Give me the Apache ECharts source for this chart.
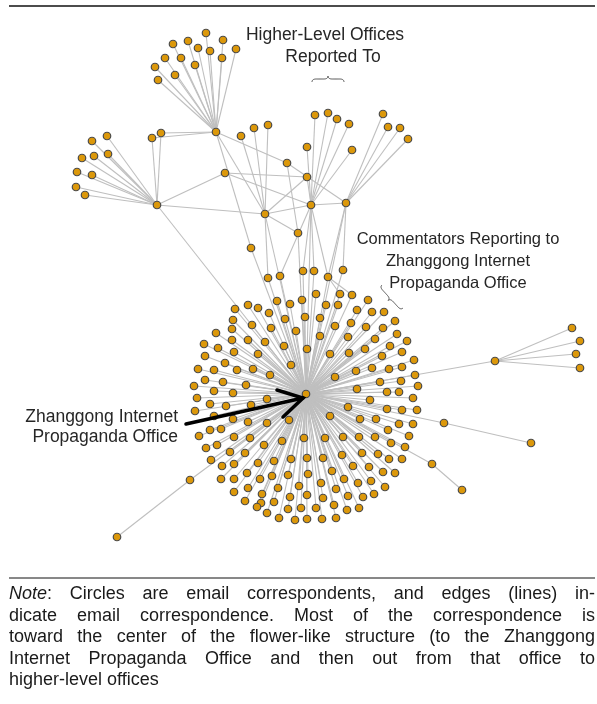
<!DOCTYPE html>
<html><head><meta charset="utf-8">
<script src="https://cdn.jsdelivr.net/npm/echarts@6/dist/echarts.min.js"></script>
<style>
html,body{margin:0;padding:0;background:#fff;}
#chart{position:absolute;left:0;top:0;width:597px;height:704px;}
#note{position:absolute;left:9px;top:583px;width:586px;font-family:'Liberation Sans',Arial,Helvetica,sans-serif;font-size:18px;line-height:21.6px;color:#1a1a1a;}
#note .j{text-align:justify;text-align-last:justify;}
</style></head>
<body>
<div id="chart"></div>
<div id="note">
<div class="j"><i>Note</i>: Circles are email correspondents, and edges (lines) in-</div>
<div class="j">dicate email correspondence. Most of the correspondence is</div>
<div class="j">toward the center of the flower-like structure (to the Zhanggong</div>
<div class="j">Internet Propaganda Office and then out from that office to</div>
<div>higher-level offices</div>
</div>
<script>
// ---- DATA (node positions) ----
const hub = [306, 394]; // Zhanggong Internet Propaganda Office

const officeNames = ['A','B','C','D','E','F','G','H','I','J','K','P1','P2','R','S1','S2','T1','T2','U1','U2'];
const officeX     = [216,157,265,307,311,346,225,287,298,251,307,152,161,495,190,117,444,531,432,462];
const officeY     = [132,205,214,177,205,203,173,163,233,248,147,138,133,361,480,537,423,443,464,490];

const leavesA = [[206,33],[188,41],[173,44],[223,40],[236,49],[198,48],[210,51],[165,58],[181,58],[195,65],[222,58],[155,67],[175,75],[158,80]];
const leavesB = [[107,136],[92,141],[108,154],[94,156],[82,158],[77,172],[92,175],[76,187],[85,195]];
const leavesC = [[241,136],[254,128],[268,125]];
const leavesE = [[315,115],[328,113],[337,119],[349,124],[352,150]];
const leavesF = [[383,114],[388,127],[400,128],[408,139]];
const leavesR = [[572,328],[580,341],[576,354],[580,368]];

const officeLinks = [
  ['A','P1'],['A','P2'],['B','P1'],['B','P2'],['A','C'],['A','J'],['J','Z'],['A','H'],['H','F'],['H','I'],
  ['B','G'],['B','C'],['B','Z'],['G','D'],['G','E'],['C','D'],['C','E'],['C','I'],['C','Z'],['D','E'],
  ['K','E'],['E','F'],['E','Z'],['F','Z'],['I','Z'],['R','Z'],['Z','S1'],['S1','S2'],['Z','T1'],['T1','T2'],
  ['Z','U1'],['U1','U2']
];

// flower nodes near the top that also write to upper offices
const flowerTop = [[268,278],[280,276],[303,271],[314,271],[328,277],[343,270],[340,294],[352,295]];
const flowerTopLinks = [['ft0','C'],['ft1','E'],['ft2','E'],['ft3','E'],['ft4','E'],['ft4','F'],['ft5','F'],['ft4','ft6'],['ft4','ft7']];

// commentators around the Zhanggong office
const flowerNW = [[277,301],[290,304],[302,300],[235,309],[248,305],[258,308],[269,313],[233,320],[252,325],[271,328],[285,319],[305,317],[232,329],[216,333],[232,340],[248,340],[265,342],[296,331],[204,344],[218,348],[234,352],[258,354],[284,346],[307,349],[205,356],[225,363],[291,365],[198,369],[214,370],[237,370],[253,369],[270,375],[205,380],[223,382],[246,385],[194,386],[214,391],[233,393]];
const flowerNE = [[316,294],[326,305],[338,305],[368,300],[357,310],[372,312],[384,312],[320,318],[335,326],[351,323],[366,327],[383,328],[395,321],[320,336],[348,337],[375,339],[397,334],[390,346],[407,341],[330,354],[349,353],[365,349],[382,356],[402,352],[414,360],[356,371],[372,368],[389,369],[402,367],[415,375],[335,377],[380,382],[401,381],[418,386],[357,389],[387,392],[399,392]];
const flowerSW = [[267,399],[197,398],[210,404],[226,406],[251,405],[195,411],[214,416],[233,419],[248,422],[267,423],[289,420],[199,436],[210,430],[221,429],[234,437],[250,438],[282,441],[304,438],[206,448],[217,445],[230,452],[245,453],[264,445],[211,460],[222,466],[234,464],[258,463],[274,461],[291,459],[307,458],[221,479],[234,479],[247,473],[260,479],[272,476],[288,475],[308,474],[234,492],[248,488],[262,494],[278,488],[299,486],[245,501],[261,503],[274,502],[290,497],[307,495],[257,507],[267,513],[288,509],[301,508],[279,518],[295,520],[307,519]];
const flowerSE = [[413,398],[370,400],[348,407],[387,409],[402,410],[417,410],[330,416],[360,419],[376,419],[399,424],[413,424],[388,430],[409,436],[325,438],[343,437],[359,437],[375,437],[391,443],[405,447],[323,458],[342,455],[362,453],[378,454],[389,459],[402,459],[332,471],[353,466],[369,467],[383,472],[395,473],[321,483],[344,479],[358,483],[371,481],[385,487],[323,498],[336,489],[348,496],[363,497],[374,494],[316,508],[334,505],[347,510],[359,508],[322,519],[336,518]];

const textTop = ['Higher-Level Offices', 'Reported To'];
const textRight = ['Commentators Reporting to', 'Zhanggong Internet', 'Propaganda Office'];
const textLeft = ['Zhanggong Internet', 'Propaganda Office'];

// ---- BUILD ----
const nodes = [], links = [];
function addNode(id, p){ nodes.push({name:id, value:[p[0], p[1]]}); }
addNode('Z', hub);
officeNames.forEach((n,i)=>addNode(n,[officeX[i],officeY[i]]));
const leafSets = {A:leavesA,B:leavesB,C:leavesC,E:leavesE,F:leavesF,R:leavesR};
Object.keys(leafSets).forEach(k=>leafSets[k].forEach((p,i)=>{addNode(k+'_'+i,p);links.push({source:k+'_'+i,target:k});}));
flowerTop.forEach((p,i)=>{addNode('ft'+i,p);links.push({source:'ft'+i,target:'Z'});});
[flowerNW,flowerNE,flowerSW,flowerSE].forEach((arr,g)=>arr.forEach((p,i)=>{const id='f'+g+'_'+i;addNode(id,p);links.push({source:id,target:'Z'});}));
officeLinks.concat(flowerTopLinks).forEach(([s,t])=>links.push({source:s,target:t}));

const chart = echarts.init(document.getElementById('chart'), null, {renderer:'canvas'});
const FONT = '17.5px "Liberation Sans", Arial, Helvetica, sans-serif';
const FONT_R = '16.5px "Liberation Sans", Arial, Helvetica, sans-serif';
const TXT = '#262626';
chart.setOption({
  animation:false,
  backgroundColor:'#fff',
  grid:{left:0,right:0,top:0,bottom:0},
  xAxis:{type:'value',min:0,max:597,show:false},
  yAxis:{type:'value',min:0,max:704,inverse:true,show:false},
  series:[{
    type:'graph', coordinateSystem:'cartesian2d', layout:'none', silent:true,
    data:nodes, links:links, symbol:'circle', symbolSize:7.5,
    itemStyle:{color:'#dc980a', borderColor:'#4a4a4a', borderWidth:1.2},
    lineStyle:{color:'#bfbfbf', width:1.1, opacity:1, curveness:0},
    label:{show:false}, emphasis:{disabled:true}
  }]
});

const px = p => chart.convertToPixel({gridIndex:0}, p);
const h = px(hub);
const tip = [h[0]-3, h[1]+4];

// curly brace as sampled polyline: p0->p1 is the brace spine, w = curl depth
function bracePoints(p0, p1, w){
  const dx=p1[0]-p0[0], dy=p1[1]-p0[1], L=Math.hypot(dx,dy);
  const d=[dx/L,dy/L], r=[d[1],-d[0]];
  const o=[p0[0]-w*r[0], p0[1]-w*r[1]];
  const m=(a,b)=>[o[0]+a*r[0]+b*d[0], o[1]+a*r[1]+b*d[1]];
  const s=L/30;
  const segs=[
    [[w,0],[0,0],[0,4*s]],
    [[0,4*s],[0,7.5*s],[0,11*s]],
    [[0,11*s],[0,15*s],[-w,15*s]],
    [[-w,15*s],[0,15*s],[0,19*s]],
    [[0,19*s],[0,22.5*s],[0,26*s]],
    [[0,26*s],[0,30*s],[w,30*s]]
  ];
  const pts=[];
  segs.forEach(([a,b,c])=>{
    for(let t=0;t<=1.0001;t+=0.125){
      const u=1-t;
      pts.push(m(u*u*a[0]+2*u*t*b[0]+t*t*c[0], u*u*a[1]+2*u*t*b[1]+t*t*c[1]));
    }
  });
  return pts;
}
const g = [];
g.push({type:'line',z:50,shape:{x1:9,y1:6,x2:595,y2:6},style:{stroke:'#111',lineWidth:1.6}});
g.push({type:'line',z:50,shape:{x1:9,y1:578,x2:595,y2:578},style:{stroke:'#111',lineWidth:1}});
g.push({type:'text',z:50,x:325,y:35,style:{text:textTop[0],font:FONT,fill:TXT,textAlign:'center',textVerticalAlign:'middle'}});
g.push({type:'text',z:50,x:333,y:57,style:{text:textTop[1],font:FONT,fill:TXT,textAlign:'center',textVerticalAlign:'middle'}});
g.push({type:'polyline',z:50,shape:{points:bracePoints([344,82],[312,82],3)},style:{stroke:'#555',lineWidth:1,fill:null}});
[239,261,283].forEach((y,i)=>g.push({type:'text',z:50,x:458,y:y,style:{text:textRight[i],font:FONT_R,fill:TXT,textAlign:'center',textVerticalAlign:'middle'}}));
g.push({type:'polyline',z:50,shape:{points:bracePoints([382,285],[403,308],3)},style:{stroke:'#555',lineWidth:1,fill:null}});
[417,437].forEach((y,i)=>g.push({type:'text',z:50,x:178,y:y,style:{text:textLeft[i],font:FONT,fill:TXT,textAlign:'right',textVerticalAlign:'middle'}}));
g.push({type:'polyline',z:100,shape:{points:[[186,424],tip]},style:{stroke:'#000',lineWidth:3.5,lineCap:'round'}});
g.push({type:'polyline',z:100,shape:{points:[[277,390],tip,[283,417]]},style:{stroke:'#000',lineWidth:3.5,lineCap:'round',lineJoin:'miter',fill:null}});
chart.setOption({graphic:{elements:g}});
</script>
</body></html>
